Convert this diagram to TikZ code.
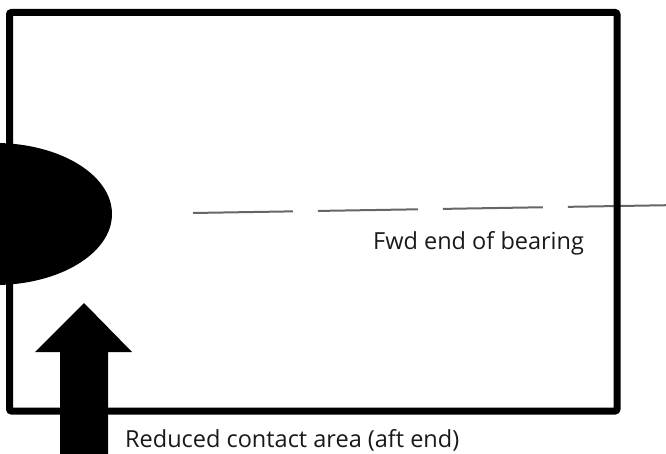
\documentclass[tikz,border=0pt]{standalone}
\usepackage{fontspec}
\setmainfont{Open Sans}
\begin{document}
\begin{tikzpicture}[x=1pt,y=-1pt,
  frame/.style={line width=7pt,rounded corners=2pt,draw=black},
  centerline/.style={draw=black!60,line width=2pt,dash pattern=on 100pt off 25pt},
  lbl/.style={anchor=base west,inner sep=0pt,font=\fontsize{23.5}{28}\selectfont,text=black!90}]
\useasboundingbox (0,0) rectangle (666,454);
\clip (0,0) rectangle (666,454);
\coordinate (cl1) at (193,213);
\coordinate (cl2) at (680,205);
\draw[centerline] (cl1) -- (cl2);
\draw[frame] (9.5,12.5) rectangle (617,411);
\fill[black] (-5,214) ellipse [x radius=117, y radius=71];
\fill[black] (60,460) -- (60,352) -- (35,352) -- (84,303) -- (132,352) -- (108,352) -- (108,460) -- cycle;
\node[lbl] (fwd) at (373,250) {Fwd end of bearing};
\node[lbl] (red) at (125,447) {Reduced contact area (aft end)};
\end{tikzpicture}
\end{document}
